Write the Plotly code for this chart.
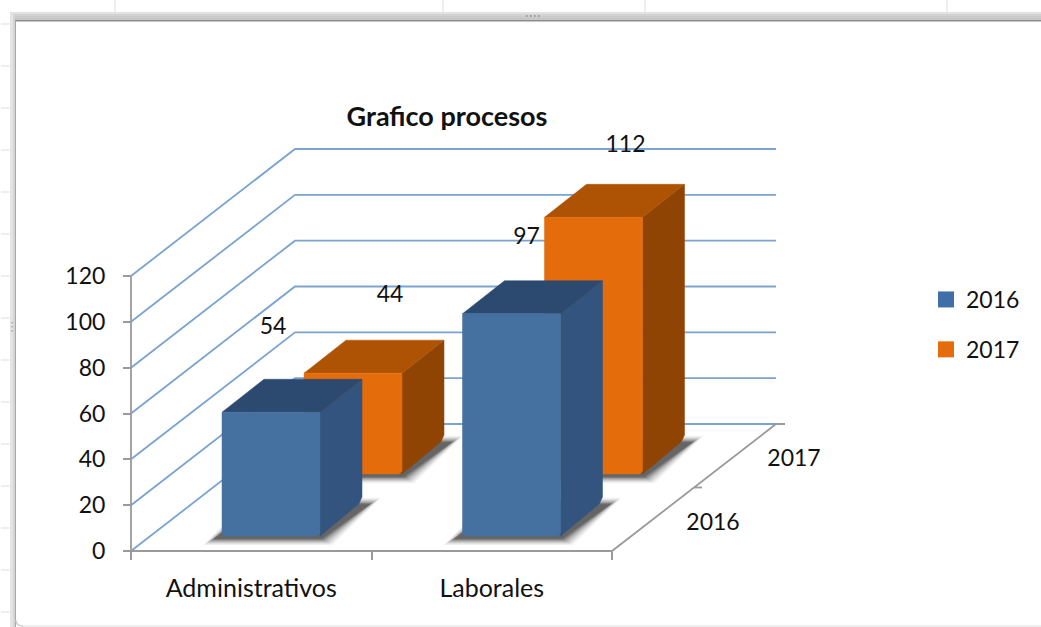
import plotly.graph_objects as go

# ---- data ----
categories = ["Administrativos", "Laborales"]
series_names = ["2016", "2017"]
values_2016 = [54, 97]
values_2017 = [44, 112]
value_ticks = [0, 20, 40, 60, 80, 100, 120]
title_text = "Grafico procesos"

# ---- page / scale set-up (pixel → axis units) ----
W, H = 1041, 627
ORIGIN_X, ORIGIN_Y = 131, 551
PX_CAT = 240.5            # pixels per category
PX_VAL = 275 / 120        # pixels per value unit
x_range = [-ORIGIN_X / PX_CAT, (W - ORIGIN_X) / PX_CAT]
y_range = [(ORIGIN_Y - H) / PX_VAL, ORIGIN_Y / PX_VAL]
DEPTH_X, DEPTH_Y = 164 / PX_CAT, 127 / PX_VAL   # oblique offset of the back wall
BAR_W = 98 / PX_CAT
BAR_DX, BAR_DY = 42 / PX_CAT, 33 / PX_VAL       # oblique depth of each bar
SERIES_X = [91 / PX_CAT, 173 / PX_CAT]          # bar front-left, per series
SERIES_Y = [15 / PX_VAL, 77 / PX_VAL]           # bar base level, per series
RX, RY = 3 / PX_CAT, 3 / PX_VAL                 # bevel at the bar foot
COL_FRONT = ["#44719f", "#e46c0a"]
COL_TOP = ["#2c4a70", "#ae5204"]
COL_SIDE = ["#32547f", "#8f4403"]
GRID = "#7ba3d0"
AXIS = "#9a9a9a"
TEXT = "#111111"
FONT = "Lato"

# label offsets from the bar's front-top centre: px right, px up
LABEL_OFF = [[(2, 84), (15, 75)], [(37, 77), (32, 71)]]

fig = go.Figure()


def poly(xs, ys, color, opacity=None):
    fig.add_trace(go.Scatter(x=xs + xs[:1], y=ys + ys[:1], mode="lines", fill="toself",
                             fillcolor=color, line=dict(color=color, width=0.5),
                             opacity=opacity, hoverinfo="skip", showlegend=False))


def line(xs, ys, color, width):
    fig.add_trace(go.Scatter(x=xs, y=ys, mode="lines", line=dict(color=color, width=width),
                             hoverinfo="skip", showlegend=False))


# gridlines: side wall + back wall
n_cat = len(categories)
for v in value_ticks:
    line([0, DEPTH_X, n_cat + DEPTH_X], [v, v + DEPTH_Y, v + DEPTH_Y], GRID, 1.8)

# axis lines
line([0, 0], [0, value_ticks[-1]], AXIS, 1.8)
line([0, n_cat, n_cat + DEPTH_X, n_cat + DEPTH_X + 9 / PX_CAT],
     [0, 0, DEPTH_Y, DEPTH_Y], AXIS, 1.8)
line([n_cat + DEPTH_X / 2, n_cat + DEPTH_X / 2 + 8 / PX_CAT],
     [DEPTH_Y / 2, DEPTH_Y / 2], AXIS, 1.8)

all_values = [values_2016, values_2017]

# bars, back row first
for s in (1, 0):
    for c in range(n_cat):
        x0 = c + SERIES_X[s]
        x1 = x0 + BAR_W
        base = SERIES_Y[s]
        top = base + all_values[s][c]
        # soft floor shadow
        for grow, op in ((8, 0.07), (6, 0.10), (4, 0.14), (2, 0.2), (0, 0.35), (-2, 0.4)):
            gx, gy = grow / PX_CAT, grow / PX_VAL * 0.6
            poly([x0 - 10 / PX_CAT - gx, x1 + 4 / PX_CAT + gx,
                  x1 + BAR_DX + 10 / PX_CAT + gx, x0 + BAR_DX - 6 / PX_CAT - gx],
                 [base - 4 / PX_VAL - gy, base - 4 / PX_VAL - gy,
                  base + BAR_DY + gy, base + BAR_DY + gy],
                 "#3c3c3c", op)
        # side
        poly([x1, x1 + BAR_DX, x1 + BAR_DX, x1 + BAR_DX - RX, x1],
             [top, top + BAR_DY, base + BAR_DY + RY * 2, base + BAR_DY - RY * 0.2, base],
             COL_SIDE[s])
        # top
        poly([x0, x1, x1 + BAR_DX, x0 + BAR_DX],
             [top, top, top + BAR_DY, top + BAR_DY], COL_TOP[s])
        # front
        poly([x0, x1, x1, x1 - RX, x0 + RX, x0],
             [top, top, base + RY, base, base, base + RY], COL_FRONT[s])

# data labels
for s in range(2):
    for c in range(n_cat):
        cx = c + SERIES_X[s] + BAR_W / 2
        dx, dy = LABEL_OFF[s][c]
        fig.add_trace(go.Scatter(
            x=[cx + dx / PX_CAT],
            y=[SERIES_Y[s] + all_values[s][c] + dy / PX_VAL],
            mode="text", text=[str(all_values[s][c])],
            textposition="middle center",
            textfont=dict(family=FONT, size=23, color=TEXT),
            hoverinfo="skip", showlegend=False))

# depth-axis labels
fig.add_trace(go.Scatter(
    x=[n_cat + DEPTH_X * 0.25 + 60 / PX_CAT, n_cat + DEPTH_X * 0.75 + 59 / PX_CAT],
    y=[DEPTH_Y * 0.25 - 5 / PX_VAL, DEPTH_Y * 0.75 - 4 / PX_VAL],
    mode="text", text=series_names, textposition="middle center",
    textfont=dict(family=FONT, size=23, color=TEXT),
    hoverinfo="skip", showlegend=False))

# legend entries
for s, name in enumerate(series_names):
    fig.add_trace(go.Scatter(x=[None], y=[None], mode="markers", name=name,
                             legendgroup=name,
                             marker=dict(symbol="square", size=17, color=COL_FRONT[s] if s else "#3f6fa6")))


# ---- spreadsheet window furniture, in page pixels ----
def px_x(p):
    return p / W


def px_y(p):
    return 1 - p / H


shapes = []


def rect(x0, y0, x1, y1, color):
    shapes.append(dict(type="rect", xref="paper", yref="paper", x0=px_x(x0), x1=px_x(x1),
                       y0=px_y(y0), y1=px_y(y1), fillcolor=color, line=dict(width=0), layer="below"))


for cx in (115, 443, 645, 947):
    rect(cx - 0.5, 0, cx + 0.5, 13, "#dedede")
for ry in range(24, 627, 42):
    rect(1, ry - 0.5, 10, ry + 0.5, "#dedede")
# top band (light → dark)
for y0, col in ((12, "#e2e2e2"), (14, "#d2d2d2"), (16, "#cbcbcb"), (18, "#c6c6c6"),
                (20, "#8e8e8e"), (21, "#c4c4c4")):
    rect(10, y0, W, y0 + 2 if y0 < 20 else y0 + 1, col)
# left band
rect(10, 14, 13, H, "#e4e4e4")
rect(13, 14, 15, H, "#d4d4d4")
rect(15, 21, 16, H, "#a8a8a8")
# bottom edge
rect(22, 625.5, W, 626.5, "#e0e0e0")
# centre grips
for gx in (526, 530, 534, 538):
    rect(gx, 15, gx + 1.5, 17, "#9a9a9a")
for gy in (322, 326, 330):
    rect(11, gy, 13, gy + 1.5, "#b5b5b5")
# corner accents
shapes.append(dict(type="path", xref="paper", yref="paper", layer="below",
                   path=f"M {px_x(16)} {px_y(620)} Q {px_x(16)} {px_y(626)} {px_x(23)} {px_y(626)}",
                   line=dict(color="#cfcfcf", width=1.5)))

fig.update_layout(
    width=W, height=H, margin=dict(l=0, r=0, t=0, b=0),
    paper_bgcolor="#ffffff", plot_bgcolor="rgba(0,0,0,0)",
    font=dict(family=FONT, color=TEXT),
    title=dict(text=f"<b>{title_text}</b>", x=447 / W, xanchor="center",
               y=px_y(117), yanchor="middle", font=dict(family=FONT, size=27, color=TEXT)),
    shapes=shapes,
    xaxis=dict(range=x_range, anchor="free", position=(H - ORIGIN_Y) / H,
               domain=[0, 1], showgrid=False, zeroline=False, showline=False,
               tickmode="array", tickvals=[i + 0.5 for i in range(n_cat)], ticktext=categories,
               ticks="", ticklabelstandoff=20,
               tickfont=dict(family=FONT, size=25, color=TEXT),
               minor=dict(tickmode="array", tickvals=list(range(n_cat + 1)),
                          ticks="outside", ticklen=8, tickwidth=1.8, tickcolor=AXIS, showgrid=False)),
    yaxis=dict(range=y_range, anchor="free", position=ORIGIN_X / W,
               domain=[0, 1], showgrid=False, zeroline=False, showline=False,
               tickmode="array", tickvals=value_ticks, ticks="outside", ticklen=8,
               tickwidth=1.8, tickcolor=AXIS, ticklabelstandoff=13,
               tickfont=dict(family=FONT, size=23, color=TEXT)),
    legend=dict(x=926 / W, xanchor="left", y=px_y(278), yanchor="top",
                bgcolor="rgba(0,0,0,0)", tracegroupgap=17, itemclick=False,
                font=dict(family=FONT, size=23, color=TEXT)),
)

fig.write_html("out.html", config=dict(displayModeBar=False),
               post_script="document.body.style.margin='0';document.body.style.overflow='hidden';")
